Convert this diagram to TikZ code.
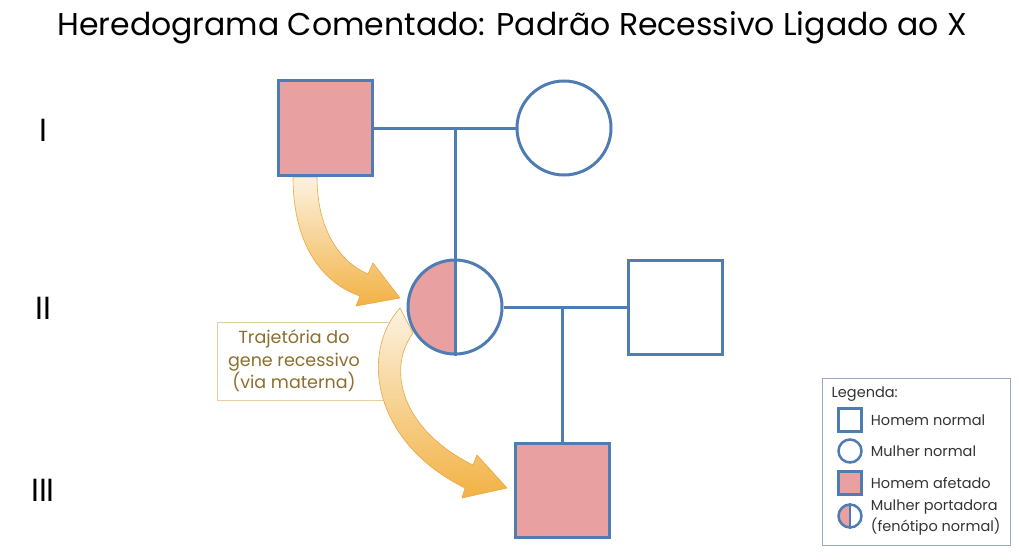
\documentclass[tikz,border=0pt]{standalone}
\usepackage{fontspec}
\setmainfont{Poppins}
\usetikzlibrary{positioning}

\definecolor{pedblue}{RGB}{79,125,179}
\definecolor{affpink}{RGB}{232,160,160}
\definecolor{trailgold}{RGB}{242,178,68}
\definecolor{trailpale}{RGB}{252,242,225}
\definecolor{trailtext}{RGB}{140,110,45}
\definecolor{boxtan}{RGB}{228,208,165}
\definecolor{keyframe}{RGB}{150,170,195}

\begin{document}
\begin{tikzpicture}
   [
      x=1pt, y=-1pt,
      % Pedigree symbols: square for men, circle for women
      male/.style={rectangle, draw=pedblue, line width=3pt, minimum size=94pt, inner sep=0pt},
      female/.style={circle, draw=pedblue, line width=3pt, minimum size=94pt, inner sep=0pt},
      affected/.style={fill=affpink},
      % Carrier: left half filled
      carrier/.style={path picture={\fill[affpink] (path picture bounding box.south west) rectangle (path picture bounding box.north);}},
      % Mating and descent lines
      mating/.style={draw=pedblue, line width=3pt},
      % Generation numbers
      gen label/.style={font=\fontsize{32}{36}\selectfont},
      % Curved inheritance arrows
      trail/.style={top color=trailpale, middle color=trailgold!60!trailpale, bottom color=trailgold, draw=trailgold!80!brown, line width=0.6pt},
      % Comment box
      note text/.style={text=trailtext, align=center, font=\fontsize{17.5}{22.5}\selectfont, inner sep=0pt},
      note frame/.style={draw=boxtan, line width=1pt},
      % Legend
      key/.style={line width=2.5pt, minimum size=23pt, inner sep=0pt},
      key text/.style={font=\fontsize{14.5}{21}\selectfont, text=black!80, align=left, inner sep=0pt}
   ]
    \useasboundingbox (0,0) rectangle (1024,559);

    % Title
    \node[font=\fontsize{31.5}{36}\selectfont] (title) at (512,28) {Heredograma Comentado: Padrão Recessivo Ligado ao X};

    % Generation numbers
    \node[gen label] (genI) at (43,130) {I};
    \node[gen label] (genII) at (43,308) {II};
    \node[gen label] (genIII) at (43,490) {III};

    % Comment box (behind the arrows)
    \draw[note frame] (217,322) rectangle (392,400);
    \node[note text] (note) at (294,361) {Trajetória do\\gene recessivo\\(via materna)};

    % Arrow: father -> daughter
    \shade[trail] (293,177) .. controls (293,242) and (320,282) .. (360,296)
       -- (356,306) -- (400,298) -- (373,263) -- (368,274)
       .. controls (340,262) and (317,230) .. (317,177) -- cycle;

    % Arrow: mother -> son
    \shade[trail] (400,308) .. controls (360,352) and (372,442) .. (465,488)
       -- (462,498) -- (507,488) -- (477,455) -- (473,465)
       .. controls (402,430) and (386,370) .. (413,333) -- cycle;

    % =======================================================
    % Generation I
    % =======================================================
    \node[male, affected] (I1) at (325,128) {};
    \node[female] (I2) at (564,128) {};
    \draw[mating] (I1.east) -- (I2.west);
    \coordinate (m1) at (455,128);

    % =======================================================
    % Generation II
    % =======================================================
    \node[female, carrier] (II1) at (455,307) {};
    \node[male] (II2) at (675,307) {};
    \draw[mating] (m1) -- (II1.south);
    \draw[mating] (II1.east) -- (II2.west);
    \coordinate (m2) at (562,307);

    % =======================================================
    % Generation III
    % =======================================================
    \node[male, affected] (III1) at (562,490) {};
    \draw[mating] (m2) -- (III1.north);

    % =======================================================
    % Legend
    % =======================================================
    \node[draw=keyframe, line width=1pt, minimum width=188pt, minimum height=167pt, inner sep=0pt] (legend) at (916,461.5) {};
    \node[key text, below right=9pt and 10pt of legend.north west] (legtitle) {Legenda:};

    \node[key, rectangle, draw=pedblue] (k1) at (850,420) {};
    \node[key, circle, draw=pedblue] (k2) at (850,451) {};
    \node[key, rectangle, draw=pedblue, affected] (k3) at (850,483) {};
    \node[key, circle, draw=pedblue, carrier] (k4) at (850,516) {};
    \draw[pedblue, line width=2.5pt] (k4.north) -- (k4.south);

    \node[key text, right=8pt of k1] (t1) {Homem normal};
    \node[key text, right=8pt of k2] (t2) {Mulher normal};
    \node[key text, right=8pt of k3] (t3) {Homem afetado};
    \node[key text, right=8pt of k4, yshift=-2pt] (t4) {Mulher portadora\\(fenótipo normal)};

\end{tikzpicture}
\end{document}
